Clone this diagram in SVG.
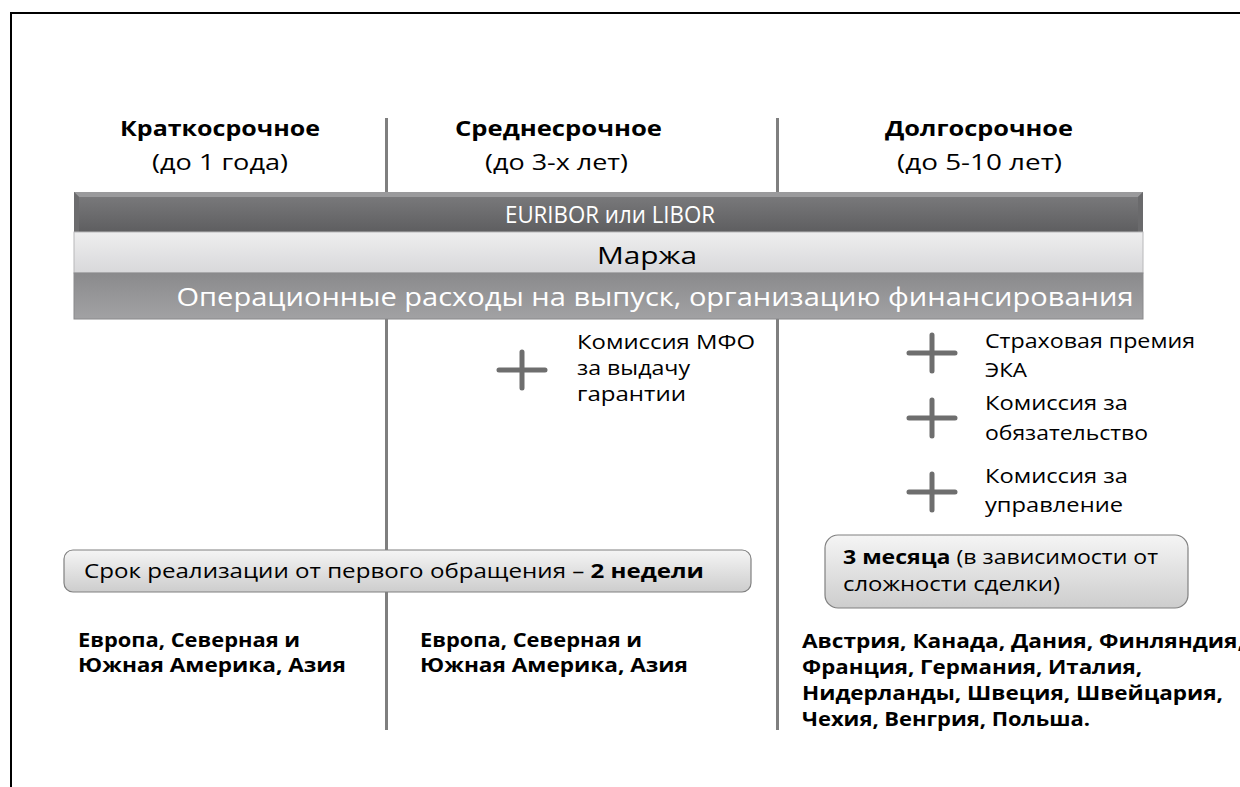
<svg xmlns="http://www.w3.org/2000/svg" width="1240" height="787" viewBox="0 0 1240 787">
<defs>
<linearGradient id="gDark" x1="0" y1="0" x2="0" y2="1"><stop offset="0" stop-color="#7c7c7e"/><stop offset="1" stop-color="#5e5e60"/></linearGradient>
<linearGradient id="gLight" x1="0" y1="0" x2="0" y2="1"><stop offset="0" stop-color="#eeeeef"/><stop offset="1" stop-color="#d8d8da"/></linearGradient>
<linearGradient id="gMid" x1="0" y1="0" x2="0" y2="1"><stop offset="0" stop-color="#8a8a8c"/><stop offset="1" stop-color="#a2a2a4"/></linearGradient>
<linearGradient id="gBox" x1="0" y1="0" x2="0" y2="1"><stop offset="0" stop-color="#f5f5f5"/><stop offset="1" stop-color="#cdcdcd"/></linearGradient>
<style>
.t{font-family:"Open Sans","DejaVu Sans",sans-serif;fill:#000}
.b{font-weight:bold}
.h{font-size:22px}
.s{font-size:20px}
.w{fill:#fff}
.div{stroke:#7f7f7f;stroke-width:3}
.plus{stroke:#6e6e6e;stroke-width:5;stroke-linecap:round;fill:none}
.box{fill:url(#gBox);stroke:#808080;stroke-width:1.2}
</style>
</defs>
<rect width="1240" height="787" fill="#fff"/>
<path d="M11 787 V13 H1240" fill="none" stroke="#000" stroke-width="2"/>

<g id="connectors">
<line class="div" x1="386.5" y1="118" x2="386.5" y2="730"/>
<line class="div" x1="777.5" y1="118" x2="777.5" y2="730"/>
</g>

<g id="headers">
<text class="t b h" x="220" y="136" text-anchor="middle" textLength="200" lengthAdjust="spacingAndGlyphs">Краткосрочное</text>
<text class="t h" x="220" y="170" text-anchor="middle" textLength="136" lengthAdjust="spacingAndGlyphs">(до 1 года)</text>
<text class="t b h" x="558.5" y="136" text-anchor="middle" textLength="207" lengthAdjust="spacingAndGlyphs">Среднесрочное</text>
<text class="t h" x="556.5" y="170" text-anchor="middle" textLength="143" lengthAdjust="spacingAndGlyphs">(до 3-х лет)</text>
<text class="t b h" x="979" y="136" text-anchor="middle" textLength="188" lengthAdjust="spacingAndGlyphs">Долгосрочное</text>
<text class="t h" x="979.5" y="170" text-anchor="middle" textLength="165" lengthAdjust="spacingAndGlyphs">(до 5-10 лет)</text>
</g>

<g id="bar-euribor">
<rect x="74" y="192" width="1069" height="40" fill="url(#gDark)"/>
<path d="M74 192 H1143 L1138 197 H79 Z" fill="#9a9a9c"/>
<path d="M74 192 L79 197 V232 H74 Z" fill="#6c6c6e"/>
<path d="M1143 192 L1138 197 V232 H1143 Z" fill="#6a6a6c"/>
<text class="t w" x="610" y="223" text-anchor="middle" font-size="24" textLength="210" lengthAdjust="spacingAndGlyphs">EURIBOR или LIBOR</text>
</g>
<g id="bar-marzha">
<rect x="74" y="232" width="1069" height="41" fill="url(#gLight)" stroke="#b8b8ba" stroke-width="1"/>
<text class="t" x="647" y="264" text-anchor="middle" font-size="24" textLength="100" lengthAdjust="spacingAndGlyphs">Маржа</text>
</g>
<g id="bar-oper">
<rect x="74" y="273" width="1069" height="46" fill="url(#gMid)" stroke="#8a8a8c" stroke-width="1"/>
<text class="t w" x="655" y="306" text-anchor="middle" font-size="25" textLength="957" lengthAdjust="spacingAndGlyphs">Операционные расходы на выпуск, организацию финансирования</text>
</g>

<g id="plus-mfo">
<path class="plus" d="M499 370 H545 M522 352 V388"/>
<text class="t s" x="577" y="349" textLength="178" lengthAdjust="spacingAndGlyphs">Комиссия МФО</text>
<text class="t s" x="577" y="375" textLength="113" lengthAdjust="spacingAndGlyphs">за выдачу</text>
<text class="t s" x="577" y="401" textLength="109" lengthAdjust="spacingAndGlyphs">гарантии</text>
</g>
<g id="plus-eka">
<path class="plus" d="M909 353 H955 M932 335 V371"/>
<text class="t s" x="985" y="348" textLength="210" lengthAdjust="spacingAndGlyphs">Страховая премия</text>
<text class="t s" x="985" y="377" textLength="42" lengthAdjust="spacingAndGlyphs">ЭКА</text>
</g>
<g id="plus-commit">
<path class="plus" d="M909 418 H955 M932 400 V436"/>
<text class="t s" x="985" y="410" textLength="143" lengthAdjust="spacingAndGlyphs">Комиссия за</text>
<text class="t s" x="985" y="440" textLength="163" lengthAdjust="spacingAndGlyphs">обязательство</text>
</g>
<g id="plus-manage">
<path class="plus" d="M909 492 H955 M932 474 V510"/>
<text class="t s" x="985" y="483" textLength="143" lengthAdjust="spacingAndGlyphs">Комиссия за</text>
<text class="t s" x="985" y="512" textLength="138" lengthAdjust="spacingAndGlyphs">управление</text>
</g>

<g id="box-2weeks">
<rect class="box" x="64" y="550" width="687" height="42" rx="9"/>
<text class="t s" x="84" y="578" textLength="620" lengthAdjust="spacingAndGlyphs">Срок реализации от первого обращения – <tspan class="b">2 недели</tspan></text>
</g>
<g id="box-3months">
<rect class="box" x="825" y="535" width="363" height="73" rx="13"/>
<text class="t s" x="843" y="564" textLength="315" lengthAdjust="spacingAndGlyphs"><tspan class="b">3 месяца</tspan> (в зависимости от</text>
<text class="t s" x="843" y="591" textLength="217" lengthAdjust="spacingAndGlyphs">сложности сделки)</text>
</g>

<g id="region-short">
<text class="t b s" x="78" y="647" textLength="222" lengthAdjust="spacingAndGlyphs">Европа, Северная и</text>
<text class="t b s" x="78" y="672" textLength="268" lengthAdjust="spacingAndGlyphs">Южная Америка, Азия</text>
</g>
<g id="region-mid">
<text class="t b s" x="420" y="647" textLength="222" lengthAdjust="spacingAndGlyphs">Европа, Северная и</text>
<text class="t b s" x="420" y="672" textLength="268" lengthAdjust="spacingAndGlyphs">Южная Америка, Азия</text>
</g>
<g id="region-long">
<text class="t b s" x="802" y="648" textLength="442" lengthAdjust="spacingAndGlyphs">Австрия, Канада, Дания, Финляндия,</text>
<text class="t b s" x="802" y="674" textLength="340" lengthAdjust="spacingAndGlyphs">Франция, Германия, Италия,</text>
<text class="t b s" x="802" y="700" textLength="421" lengthAdjust="spacingAndGlyphs">Нидерланды, Швеция, Швейцария,</text>
<text class="t b s" x="802" y="726" textLength="288" lengthAdjust="spacingAndGlyphs">Чехия, Венгрия, Польша.</text>
</g>
</svg>
